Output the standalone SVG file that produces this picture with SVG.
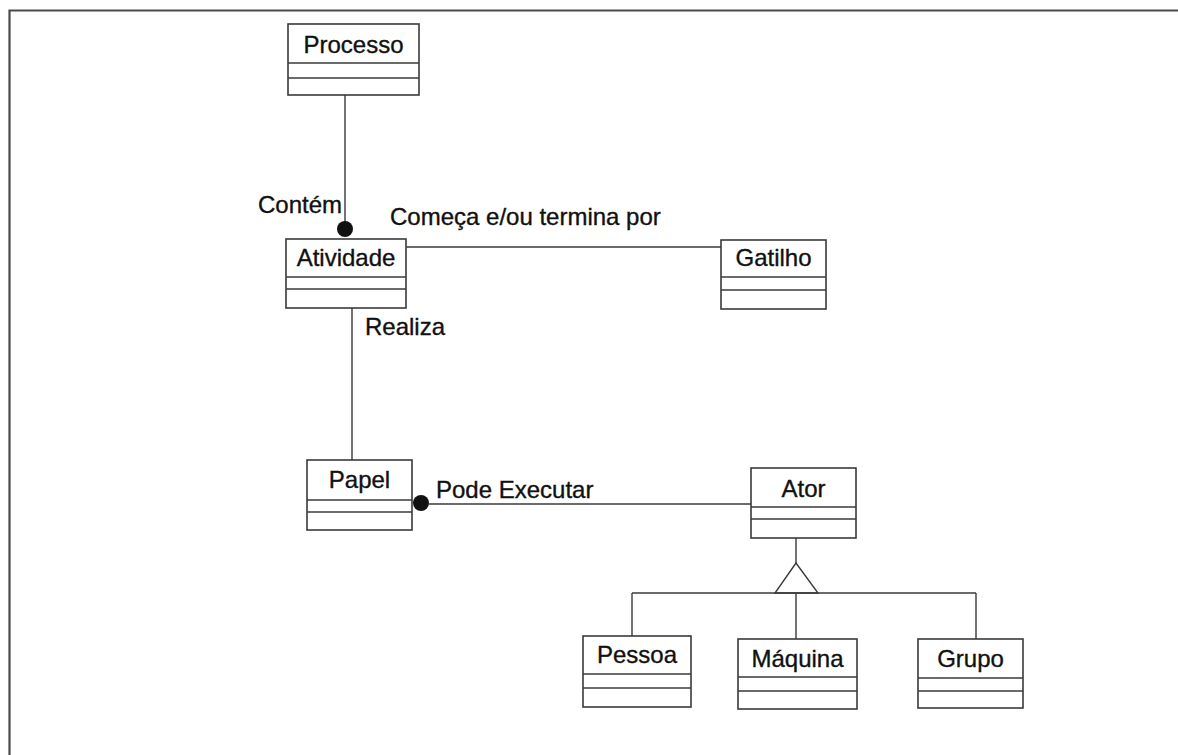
<svg xmlns="http://www.w3.org/2000/svg" width="1178" height="755" viewBox="0 0 1178 755">
  <style>
    .box { fill: #ffffff; stroke: #3a3a3a; stroke-width: 1.6; }
    .div { stroke: #3a3a3a; stroke-width: 1.6; }
    .name { font-family: "Liberation Sans", Arial, sans-serif; font-size: 24px; fill: #111111; stroke: #111111; stroke-width: 0.35; text-anchor: middle; }
    .lbl { font-family: "Liberation Sans", Arial, sans-serif; font-size: 24px; fill: #111111; stroke: #111111; stroke-width: 0.35; }
    .conn { stroke: #3a3a3a; stroke-width: 1.4; fill: none; }
  </style>
  <rect width="1178" height="755" fill="#ffffff"/>
  <!-- page frame -->
  <path d="M9.5 755 V10.5 H1178" fill="none" stroke="#4a4a4a" stroke-width="2.2"/>

  <!-- connectors -->
  <g id="connectors">
    <line class="conn" x1="345" y1="95" x2="345" y2="222"/>
    <circle cx="345" cy="229" r="8" fill="#111111"/>
    <line class="conn" x1="406" y1="247" x2="721" y2="247"/>
    <line class="conn" x1="352" y1="308" x2="352" y2="460"/>
    <circle cx="421" cy="503" r="8" fill="#111111"/>
    <line class="conn" x1="428" y1="504" x2="751" y2="504"/>
    <line class="conn" x1="796" y1="538" x2="796" y2="563"/>
    <polygon class="conn" points="796,563 775,593 818,593"/>
    <line class="conn" x1="632" y1="593" x2="976" y2="593"/>
    <line class="conn" x1="632" y1="593" x2="632" y2="636"/>
    <line class="conn" x1="796" y1="593" x2="796" y2="639"/>
    <line class="conn" x1="976" y1="593" x2="976" y2="639"/>
    <text class="lbl" x="258" y="213">Contém</text>
    <text class="lbl" x="390" y="225">Começa e/ou termina por</text>
    <text class="lbl" x="365" y="335">Realiza</text>
    <text class="lbl" x="436" y="498">Pode Executar</text>
  </g>

  <g id="processo">
    <rect class="box" x="288" y="24" width="131" height="71"/>
    <line class="div" x1="288" y1="63" x2="419" y2="63"/>
    <line class="div" x1="288" y1="78" x2="419" y2="78"/>
    <text class="name" x="353.5" y="53">Processo</text>
  </g>

  <g id="atividade">
    <rect class="box" x="286" y="239" width="120" height="69"/>
    <line class="div" x1="286" y1="277" x2="406" y2="277"/>
    <line class="div" x1="286" y1="289" x2="406" y2="289"/>
    <text class="name" x="346" y="266">Atividade</text>
  </g>

  <g id="gatilho">
    <rect class="box" x="721" y="240" width="105" height="69"/>
    <line class="div" x1="721" y1="277" x2="826" y2="277"/>
    <line class="div" x1="721" y1="290" x2="826" y2="290"/>
    <text class="name" x="773.5" y="266">Gatilho</text>
  </g>

  <g id="papel">
    <rect class="box" x="307" y="460" width="105" height="70"/>
    <line class="div" x1="307" y1="500" x2="412" y2="500"/>
    <line class="div" x1="307" y1="512" x2="412" y2="512"/>
    <text class="name" x="359.5" y="488">Papel</text>
  </g>

  <g id="ator">
    <rect class="box" x="751" y="468" width="105" height="70"/>
    <line class="div" x1="751" y1="507" x2="856" y2="507"/>
    <line class="div" x1="751" y1="519" x2="856" y2="519"/>
    <text class="name" x="803.5" y="497">Ator</text>
  </g>

  <g id="pessoa">
    <rect class="box" x="583" y="636" width="108" height="71"/>
    <line class="div" x1="583" y1="674" x2="691" y2="674"/>
    <line class="div" x1="583" y1="688" x2="691" y2="688"/>
    <text class="name" x="637" y="663">Pessoa</text>
  </g>

  <g id="maquina">
    <rect class="box" x="738" y="639" width="119" height="70"/>
    <line class="div" x1="738" y1="677" x2="857" y2="677"/>
    <line class="div" x1="738" y1="691" x2="857" y2="691"/>
    <text class="name" x="797.5" y="667">Máquina</text>
  </g>

  <g id="grupo">
    <rect class="box" x="918" y="639" width="105" height="69"/>
    <line class="div" x1="918" y1="678" x2="1023" y2="678"/>
    <line class="div" x1="918" y1="691" x2="1023" y2="691"/>
    <text class="name" x="970.5" y="667">Grupo</text>
  </g>
</svg>
